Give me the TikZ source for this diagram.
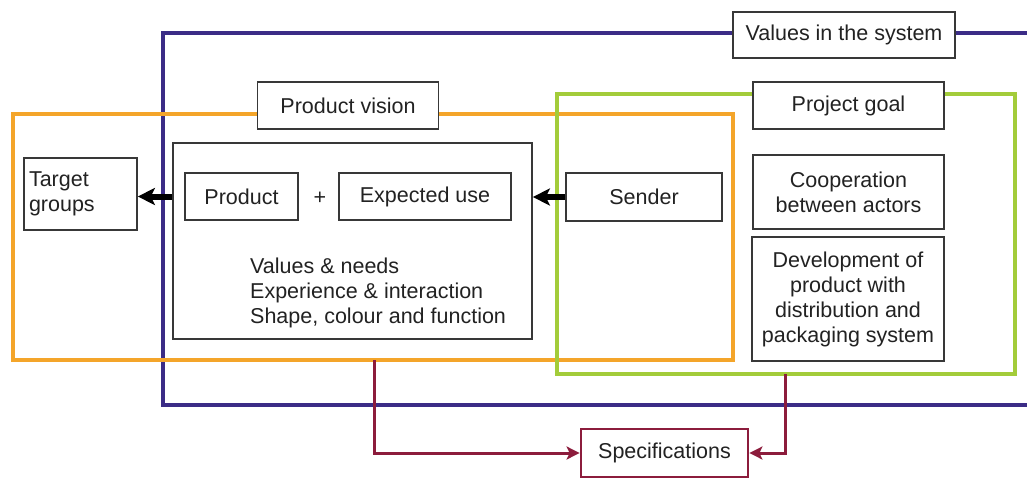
\documentclass[tikz,border=0pt]{standalone}
\usepackage{fontspec}
\setmainfont{Liberation Sans}
\usetikzlibrary{arrows.meta,calc}
\definecolor{sysviolet}{HTML}{3B2C86}
\definecolor{visionorange}{HTML}{F4A52A}
\definecolor{goalgreen}{HTML}{A3CC3A}
\definecolor{specred}{HTML}{8C1C3C}
\definecolor{inkgray}{HTML}{222222}
\begin{document}
\begin{tikzpicture}[x=1pt,y=-1pt,
  every node/.style={font=\fontsize{21.5}{25}\selectfont, text=inkgray},
  box/.style={draw=inkgray!90, line width=1.7pt, fill=white, rectangle, inner sep=0pt, align=center},
  frame/.style={line width=3.2pt},
  flowarrow/.style={line width=6pt, -{Stealth[length=17pt,width=17pt,inset=4pt]}},
  specarrow/.style={color=specred, line width=3pt, -{Stealth[length=13pt,width=13pt,inset=3pt]}}
]
\useasboundingbox (0,0) rectangle (1027,479);

% open frame of the whole system
\draw[frame, sysviolet] (1030,33) -- (163,33) -- (163,405) -- (1030,405);
% product vision and project goal frames
\draw[frame, visionorange] (13,114) rectangle (733,360);
\draw[frame, goalgreen] (557,94) rectangle (1015,374);

% frame titles
\node[box, minimum width=222, minimum height=46] (vals) at (844,35) {Values in the system};
\node[box, minimum width=181, minimum height=47] (pv) at (348,105.5) {Product vision};
\node[box, minimum width=191, minimum height=47] (pg) at (848.5,105.5) {Project goal};

% product vision content
\node[box, minimum width=359, minimum height=196] (big) at (352.5,241) {};
\node[box, minimum width=113, minimum height=47] (prod) at (241.5,196.5) {Product};
\node (plus) at (320,198) {+};
\node[box, minimum width=172, minimum height=47] (exp) at (425,196.5) {Expected use};
\node[anchor=north west, align=left, inner sep=0pt] (list) at (250,258)
  {Values \& needs\\Experience \& interaction\\Shape, colour and function};

\node[box, minimum width=113, minimum height=72, text width=103, align=left] (tg) at (80.5,194)
  {Target\\groups};
\node[box, minimum width=156, minimum height=48] (sender) at (644,197) {Sender};

% project goal content
\node[box, minimum width=191, minimum height=74] (coop) at (848.5,192)
  {Cooperation\\between actors};
\node[box, minimum width=192, minimum height=124] (dev) at (848,299)
  {Development of\\product with\\distribution and\\packaging system};

% flows
\draw[flowarrow] (prod -| big.west) -- (prod -| tg.east);
\draw[flowarrow] (sender.west) -- (sender.west -| big.east);

% specifications
\node[box, draw=specred, line width=2.8pt, minimum width=167, minimum height=48] (spec) at (664.5,453) {Specifications};
\coordinate (visionout) at (374,360);
\coordinate (goalout) at (785,374);
\draw[specarrow] (visionout) |- (spec.west);
\draw[specarrow] (goalout) |- (spec.east);
\end{tikzpicture}
\end{document}
